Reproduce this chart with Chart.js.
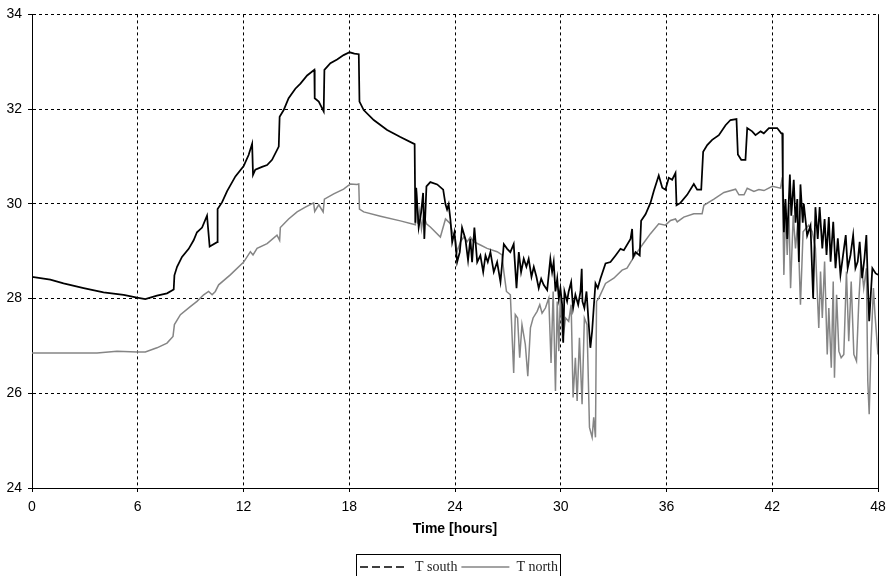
<!DOCTYPE html>
<html>
<head>
<meta charset="utf-8">
<title>T south / T north</title>
<script src="https://cdn.jsdelivr.net/npm/chart.js@4.4.1/dist/chart.umd.min.js"></script>
<style>
  body { margin: 0; background: #fff; }
  canvas { display: block; }
</style>
</head>
<body>
<canvas id="tempChart" width="893" height="576"></canvas>
<script>
"use strict";

// data ------------------------------------
const seriesLabels = ["T south", "T north"];
const hourTicks = [0, 6, 12, 18, 24, 30, 36, 42, 48];
const tempTicks = [24, 26, 28, 30, 32, 34];

const southHours = [
  0, 1.04, 1.79, 2.93, 4.06, 5.2, 5.96, 6.43, 7.09, 7.66,
  8.04, 8.08, 8.23, 8.51, 8.89, 9.17, 9.36, 9.65, 9.93, 10.08,
  10.5, 10.53, 10.78, 11.07, 11.54, 12.01, 12.29, 12.49, 12.54, 12.67,
  13.05, 13.34, 13.62, 14.0, 14.05, 14.28, 14.56, 14.94, 15.23, 15.61,
  16.02, 16.04, 16.27, 16.55, 16.59, 16.93, 17.31, 17.68, 18.02, 18.29,
  18.54, 18.58, 18.82, 19.39, 20.15, 20.9, 21.71, 21.75, 21.8, 21.94,
  22.08, 22.19, 22.26, 22.38, 22.6, 22.99, 23.33, 23.46, 23.55, 23.64,
  23.74, 23.84, 23.97, 24.12, 24.27, 24.4, 24.59, 24.74, 24.87, 24.97,
  25.1, 25.26, 25.44, 25.6, 25.73, 25.86, 26.01, 26.2, 26.39, 26.58,
  26.77, 26.96, 27.14, 27.33, 27.49, 27.62, 27.75, 27.9, 28.05, 28.18,
  28.34, 28.47, 28.62, 28.75, 28.89, 29.03, 29.23, 29.41, 29.51, 29.6,
  29.7, 29.8, 29.89, 29.98, 30.08, 30.14, 30.21, 30.36, 30.45, 30.59,
  30.7, 30.83, 30.99, 31.12, 31.19, 31.23, 31.34, 31.46, 31.59, 31.68,
  31.78, 31.87, 31.97, 32.1, 32.25, 32.54, 32.82, 33.11, 33.39, 33.58,
  33.96, 34.05, 34.11, 34.24, 34.48, 34.56, 34.81, 35.09, 35.28, 35.56,
  35.76, 35.94, 36.13, 36.32, 36.51, 36.57, 36.79, 37.17, 37.55, 37.74,
  37.97, 38.08, 38.31, 38.59, 38.97, 39.35, 39.63, 39.97, 40.05, 40.24,
  40.48, 40.58, 40.86, 41.05, 41.34, 41.52, 41.81, 42.28, 42.51, 42.57,
  42.6, 42.66, 42.75, 42.85, 43.0, 43.08, 43.22, 43.32, 43.42, 43.51,
  43.6, 43.73, 43.79, 43.98, 44.17, 44.32, 44.45, 44.58, 44.69, 44.84,
  44.97, 45.08, 45.21, 45.31, 45.46, 45.59, 45.72, 45.87, 46.02, 46.17,
  46.28, 46.44, 46.59, 46.72, 46.85, 46.96, 47.1, 47.23, 47.34, 47.42,
  47.5, 47.68, 47.87, 48
];
const southTemps = [
  28.46, 28.40, 28.32, 28.22, 28.13, 28.08, 28.02, 27.99, 28.06, 28.11,
  28.19, 28.49, 28.67, 28.88, 29.05, 29.23, 29.40, 29.50, 29.75, 29.10,
  29.19, 29.89, 30.03, 30.27, 30.58, 30.80, 31.03, 31.27, 30.61, 30.72,
  30.78, 30.82, 30.93, 31.21, 31.84, 31.98, 32.23, 32.43, 32.54, 32.71,
  32.83, 32.23, 32.16, 31.95, 32.83, 32.97, 33.05, 33.14, 33.20, 33.17,
  33.16, 32.16, 31.98, 31.77, 31.56, 31.41, 31.26, 29.60, 30.34, 29.50,
  29.82, 30.23, 29.26, 30.37, 30.46, 30.41, 30.30, 29.99, 29.88, 29.99,
  29.67, 29.19, 29.40, 28.77, 28.98, 29.50, 29.26, 28.81, 29.26, 28.77,
  29.50, 28.77, 28.91, 28.56, 28.91, 28.77, 28.98, 28.56, 28.77, 28.35,
  29.15, 29.05, 28.98, 29.15, 28.22, 28.98, 28.56, 28.84, 28.67, 28.84,
  28.46, 28.67, 28.46, 28.22, 28.42, 28.29, 28.18, 28.84, 28.56, 28.77,
  28.15, 28.42, 28.00, 28.22, 27.87, 27.07, 28.15, 27.94, 28.15, 28.35,
  27.80, 28.08, 27.87, 28.15, 28.63, 27.94, 27.80, 28.15, 27.45, 26.96,
  27.31, 27.80, 28.32, 28.22, 28.42, 28.74, 28.77, 28.91, 29.05, 29.02,
  29.26, 29.47, 28.88, 28.98, 28.91, 29.64, 29.78, 30.02, 30.27, 30.60,
  30.34, 30.30, 30.55, 30.51, 30.65, 29.97, 30.02, 30.19, 30.42, 30.30,
  30.30, 31.10, 31.24, 31.35, 31.45, 31.66, 31.77, 31.79, 31.04, 30.93,
  30.93, 31.60, 31.53, 31.45, 31.53, 31.49, 31.60, 31.60, 31.49, 31.49,
  30.45, 29.40, 30.10, 29.26, 30.62, 29.75, 30.51, 29.60, 30.10, 28.77,
  30.41, 29.60, 30.00, 29.33, 29.54, 28.00, 29.93, 29.26, 29.93, 29.06,
  29.68, 28.92, 29.72, 28.78, 29.62, 28.64, 29.27, 28.50, 28.92, 29.34,
  28.64, 28.92, 29.34, 28.64, 28.78, 29.20, 28.43, 28.85, 29.34, 28.36,
  27.52, 28.64, 28.53, 28.50
];

const northHours = [
  0, 1.79, 3.69, 4.82, 5.96, 6.43, 7.09, 7.66, 8.0, 8.08,
  8.42, 8.98, 9.36, 9.74, 10.02, 10.22, 10.4, 10.59, 11.25, 12.01,
  12.39, 12.54, 12.77, 13.34, 13.9, 14.05, 14.09, 14.56, 15.04, 15.51,
  15.98, 16.04, 16.27, 16.52, 16.59, 17.12, 17.68, 18.06, 18.44, 18.54,
  18.58, 18.82, 19.77, 20.9, 21.75, 21.8, 21.88, 22.0, 22.1, 22.22,
  22.38, 22.6, 23.17, 23.46, 23.74, 23.84, 24.02, 24.12, 24.31, 24.49,
  24.69, 24.87, 25.06, 25.44, 25.82, 26.39, 26.67, 26.77, 26.92, 27.14,
  27.33, 27.42, 27.55, 27.67, 27.8, 27.99, 28.13, 28.28, 28.43, 28.66,
  28.81, 28.94, 29.13, 29.32, 29.45, 29.57, 29.7, 29.8, 29.89, 29.98,
  30.11, 30.27, 30.45, 30.59, 30.7, 30.83, 30.93, 31.06, 31.21, 31.34,
  31.49, 31.63, 31.78, 31.87, 31.97, 32.03, 32.16, 32.54, 33.01, 33.48,
  33.76, 34.15, 34.62, 35.09, 35.56, 35.94, 36.23, 36.51, 36.61, 36.98,
  37.55, 38.02, 38.12, 38.69, 39.26, 39.92, 40.11, 40.4, 40.58, 40.96,
  41.24, 41.53, 42.0, 42.47, 42.57, 42.66, 42.75, 42.85, 42.94, 43.04,
  43.19, 43.32, 43.45, 43.6, 43.75, 43.88, 44.07, 44.27, 44.45, 44.64,
  44.74, 44.84, 44.97, 45.12, 45.21, 45.35, 45.46, 45.53, 45.65, 45.78,
  45.91, 46.06, 46.21, 46.34, 46.48, 46.63, 46.78, 46.91, 47.04, 47.19,
  47.34, 47.42, 47.5, 47.6, 47.74, 47.83, 48
];
const northTemps = [
  26.85, 26.85, 26.85, 26.89, 26.87, 26.87, 26.96, 27.06, 27.20, 27.45,
  27.66, 27.83, 27.94, 28.08, 28.15, 28.08, 28.15, 28.29, 28.50, 28.77,
  28.99, 28.92, 29.06, 29.16, 29.34, 29.23, 29.50, 29.68, 29.83, 29.93,
  30.02, 29.84, 29.98, 29.83, 30.10, 30.21, 30.31, 30.42, 30.41, 30.42,
  29.89, 29.83, 29.74, 29.64, 29.56, 30.31, 29.58, 29.86, 29.47, 29.76,
  29.58, 29.51, 29.30, 29.68, 29.58, 29.41, 29.26, 28.99, 29.20, 29.30,
  29.20, 29.30, 29.20, 29.13, 29.06, 28.99, 28.92, 28.57, 28.15, 28.08,
  26.43, 27.66, 27.59, 26.75, 27.45, 27.03, 26.36, 27.38, 27.59, 27.73,
  27.87, 27.69, 27.80, 28.01, 26.64, 28.15, 26.05, 27.94, 26.89, 28.08,
  27.10, 27.59, 27.52, 27.87, 25.91, 26.75, 25.84, 27.17, 25.77, 27.59,
  27.45, 25.28, 25.07, 25.49, 25.07, 27.94, 28.01, 28.32, 28.43, 28.60,
  28.64, 28.88, 29.13, 29.37, 29.58, 29.55, 29.65, 29.68, 29.62, 29.72,
  29.79, 29.79, 29.97, 30.10, 30.24, 30.31, 30.19, 30.19, 30.33, 30.26,
  30.30, 30.28, 30.37, 30.33, 30.56, 28.50, 29.89, 28.92, 29.97, 28.22,
  29.76, 29.06, 29.62, 27.87, 29.41, 29.47, 29.55, 29.41, 29.06, 27.38,
  28.57, 27.59, 28.78, 26.82, 27.80, 26.54, 28.36, 26.33, 28.08, 26.89,
  26.75, 26.82, 28.57, 27.10, 28.36, 26.82, 26.68, 27.94, 28.78, 28.22,
  28.64, 26.26, 25.56, 26.96, 28.22, 27.66, 26.82
];

function toPoints(xs, ys) {
  return xs.map((x, i) => ({ x: x, y: ys[i] }));
}

// small plugins ---------------
const LEGEND_SHIFT = 20;

const frameBits = {
  id: "frameBits",
  afterLayout(chart) {
    // move legend a bit right, like the original
    const lg = chart.legend;
    lg.left += LEGEND_SHIFT;
    lg.right += LEGEND_SHIFT;
    lg.legendHitBoxes.forEach((hb) => (hb.left += LEGEND_SHIFT));
  },
  afterDraw(chart) {
    const c = chart.ctx;
    const area = chart.chartArea;
    c.save();
    // solid right edge of plot
    c.strokeStyle = "#000";
    c.lineWidth = 1;
    c.beginPath();
    const rx = Math.round(area.right) + 0.5;
    c.moveTo(rx, area.top);
    c.lineTo(rx, area.bottom);
    c.stroke();
    // box around legend
    const hbs = chart.legend.legendHitBoxes;
    if (hbs.length) {
      const first = hbs[0];
      const last = hbs[hbs.length - 1];
      const left = Math.round(first.left - 4) + 0.5;
      const right = Math.round(last.left + last.width + 2) + 0.5;
      const top = Math.round(first.top - 6) + 0.5;
      c.strokeRect(left, top, right - left, 40);
    }
    c.restore();
  },
};

// chart ---------------
const ctx = document.getElementById("tempChart").getContext("2d");
const tempChart = new Chart(ctx, {
  type: "line",
  data: {
    datasets: [
      {
        label: seriesLabels[0],
        data: toPoints(southHours, southTemps),
        borderColor: "#000000",
        borderWidth: 1.75,
        pointRadius: 0,
        tension: 0,
      },
      {
        label: seriesLabels[1],
        data: toPoints(northHours, northTemps),
        borderColor: "#858585",
        borderWidth: 1.5,
        pointRadius: 0,
        tension: 0,
      },
    ],
  },
  options: {
    responsive: false,
    animation: false,
    layout: { padding: { left: 0, right: 15, top: 11, bottom: -8 } },
    plugins: {
      tooltip: { enabled: false },
      legend: {
        position: "bottom",
        labels: {
          usePointStyle: true,
          pointStyle: "line",
          pointStyleWidth: 48,
          padding: 4,
          color: "#222",
          font: { family: "'Liberation Serif', serif", size: 14 },
          generateLabels(chart) {
            const items = Chart.defaults.plugins.legend.labels.generateLabels(chart);
            items.forEach((it, i) => {
              it.pointStyle = "line";
              it.lineWidth = 1.5;
              if (i === 0) it.lineDash = [8, 4];
            });
            return items;
          },
        },
      },
    },
    scales: {
      x: {
        type: "linear",
        min: 0,
        max: 48,
        afterBuildTicks: (s) => (s.ticks = hourTicks.map((v) => ({ value: v }))),
        afterFit: (s) => (s.height = 68),
        grid: { color: "#000", lineWidth: 1, tickLength: 4, tickColor: "#000" },
        border: { color: "#000", width: 1, dash: [3, 3] },
        ticks: {
          color: "#000",
          padding: 7,
          maxRotation: 0,
          font: { family: "'Liberation Sans', Arial, sans-serif", size: 14 },
        },
        title: {
          display: true,
          text: "Time [hours]",
          color: "#000",
          padding: { top: 0, bottom: 18 },
          font: { family: "'Liberation Sans', Arial, sans-serif", size: 14, weight: "bold" },
        },
      },
      y: {
        min: 24,
        max: 34,
        afterBuildTicks: (s) => (s.ticks = tempTicks.map((v) => ({ value: v }))),
        afterFit: (s) => (s.width = 32),
        grid: { color: "#000", lineWidth: 1, tickLength: 4, tickColor: "#000" },
        border: { color: "#000", width: 1, dash: [3, 3] },
        ticks: {
          color: "#000",
          padding: 6,
          font: { family: "'Liberation Sans', Arial, sans-serif", size: 14 },
        },
      },
    },
  },
  plugins: [frameBits],
});
</script>
</body>
</html>
